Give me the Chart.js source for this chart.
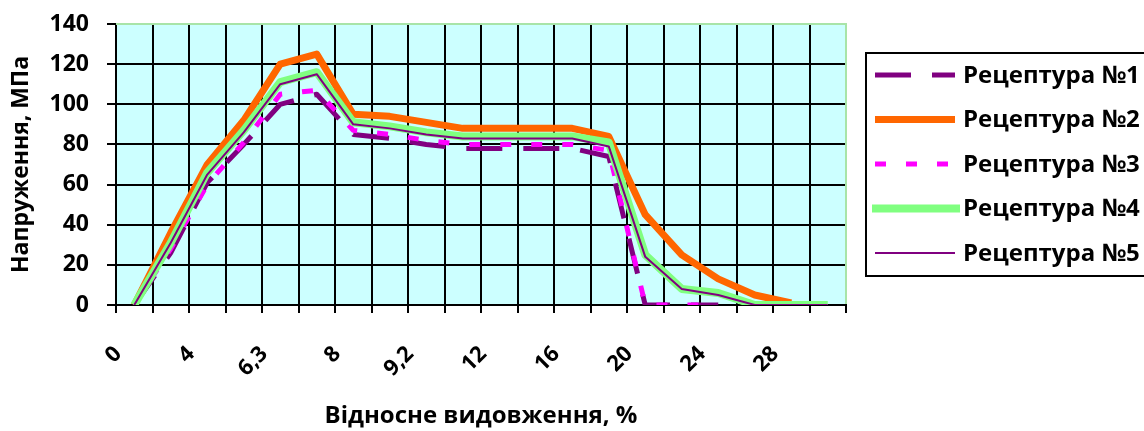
<!DOCTYPE html>
<html>
<head>
<meta charset="utf-8">
<script src="https://cdn.jsdelivr.net/npm/chart.js@4/dist/chart.umd.min.js"></script>
<style>
    html, body { margin: 0; padding: 0; background: #FFFFFF; }
</style>
</head>
<body>
<canvas id="stressChart" width="1144" height="431"></canvas>
<script>
// categories (only every second one is labelled on the original axis)
const categories = ['0', '', '4', '', '6,3', '', '8', '', '9,2', '', '12', '', '16', '', '20', '', '24', '', '28', ''];

const seriesNames = ['Рецептура №1', 'Рецептура №2', 'Рецептура №3', 'Рецептура №4', 'Рецептура №5'];

const recipe1 = [0, 26, 61, 80, 100, 105, 85, 83, 80, 78, 78, 78, 78, 74, 0, 0, 0, null, null, null];
const recipe2 = [0, 36, 70, 92, 120, 125, 95, 94, 91, 88, 88, 88, 88, 84, 45, 25, 13, 5, 1, null];
const recipe3 = [0, 28, 60, 81, 105, 107, 87, 85, 82, 80, 80, 80, 80, 77, 0, 0, 0, null, null, null];
const recipe4 = [0, 31, 66, 87, 111, 116, 91, 89, 86, 84, 84, 84, 84, 81, 25, 8, 6, 0, 0, 0];
const recipe5 = [0, 31, 65, 86, 110, 115, 90, 88, 85, 83, 83, 83, 83, 79, 24, 8, 5, 0, 0, 0];

const yMin = 0;
const yMax = 140;
const yStep = 20;

const FONT = 'Open Sans';

// plot background + pale top/right border (like the excel plot area)
const plotArea = {
    id: 'plotArea',
    beforeDraw(chart) {
        const { ctx, chartArea: a } = chart;
        ctx.save();
        ctx.fillStyle = '#FFFFFF';
        ctx.fillRect(0, 0, chart.width, chart.height);
        ctx.fillStyle = '#CCFFFF';
        ctx.fillRect(a.left, a.top, a.right - a.left, a.bottom - a.top);
        ctx.restore();
    },
    beforeDatasetsDraw(chart) {
        const { ctx, chartArea: a } = chart;
        ctx.save();
        ctx.strokeStyle = '#A8E4A8';
        ctx.lineWidth = 2;
        ctx.beginPath();
        ctx.moveTo(a.left, a.top);
        ctx.lineTo(a.right, a.top);
        ctx.lineTo(a.right, a.bottom - 1);
        ctx.stroke();
        ctx.restore();
    }
};

// boxed legend on the right, partly cut by the page edge
const boxLegend = {
    id: 'boxLegend',
    afterDraw(chart) {
        const ctx = chart.ctx;
        ctx.save();
        ctx.strokeStyle = '#000000';
        ctx.lineWidth = 2;
        ctx.strokeRect(866, 53, 300, 223);
        chart.data.datasets.forEach((ds, i) => {
            const y = 75 + i * 44.5;
            ctx.beginPath();
            ctx.setLineDash(ds.borderDash || []);
            ctx.lineCap = 'butt';
            ctx.lineWidth = ds.borderWidth;
            ctx.strokeStyle = ds.borderColor;
            const x0 = ds.borderWidth >= 8 ? 872 : 875;
            const x1 = ds.borderWidth >= 8 ? 960 : 955;
            ctx.moveTo(x0, y);
            ctx.lineTo(x1, y);
            ctx.stroke();
            ctx.setLineDash([]);
            ctx.fillStyle = '#000000';
            ctx.font = 'bold 24px "' + FONT + '"';
            ctx.textBaseline = 'middle';
            ctx.fillText(ds.label, 963, y + 1);
        });
        ctx.restore();
    }
};

const lineStyle = (label, data, color, width, dash, order) => ({
    label: label,
    data: data,
    borderColor: color,
    backgroundColor: color,
    borderWidth: width,
    borderDash: dash,
    borderCapStyle: 'butt',
    borderJoinStyle: 'round',
    pointRadius: 0,
    fill: false,
    tension: 0,
    spanGaps: false,
    order: order // last series on top, like excel
});

const config = {
    type: 'line',
    data: {
        labels: categories,
        datasets: [
            lineStyle(seriesNames[0], recipe1, '#800080', 5, [36, 21], 4),
            lineStyle(seriesNames[1], recipe2, '#FF6600', 7, [], 3),
            lineStyle(seriesNames[2], recipe3, '#FF00FF', 5, [11, 20], 2),
            lineStyle(seriesNames[3], recipe4, '#80FF80', 8, [], 1),
            lineStyle(seriesNames[4], recipe5, '#800080', 2, [], 0)
        ]
    },
    options: {
        responsive: false,
        animation: false,
        layout: {
            padding: { top: 24, right: 298, left: 0, bottom: 0 }
        },
        plugins: {
            legend: { display: false },
            tooltip: { enabled: false }
        },
        scales: {
            x: {
                type: 'category',
                offset: true,
                grid: {
                    offset: true,
                    color: (c) => c.index === categories.length ? 'rgba(0,0,0,0)' : '#000000',
                    tickColor: '#000000',
                    lineWidth: 2,
                    tickLength: 8
                },
                border: { color: '#000000', width: 2 },
                ticks: {
                    autoSkip: false,
                    maxRotation: 45,
                    minRotation: 45,
                    labelOffset: -16,
                    padding: 28,
                    color: '#000000',
                    font: { family: FONT, weight: 'bold', size: 22 }
                },
                title: {
                    display: true,
                    text: 'Відносне видовження, %',
                    color: '#000000',
                    font: { family: FONT, weight: 'bold', size: 24 },
                    padding: { top: 0, bottom: 0 }
                },
                afterFit: (scale) => {
                    scale.height = 126;
                    scale.paddingLeft = 0;
                    scale.paddingRight = 0;
                }
            },
            y: {
                min: yMin,
                max: yMax,
                grid: {
                    color: (c) => (c.tick && c.tick.value === yMax) ? 'rgba(0,0,0,0)' : '#000000',
                    tickColor: '#000000',
                    lineWidth: 2,
                    tickLength: 9
                },
                border: { color: '#000000', width: 2 },
                ticks: {
                    stepSize: yStep,
                    padding: 18,
                    color: '#000000',
                    font: { family: FONT, weight: 'bold', size: 23 }
                },
                title: {
                    display: true,
                    text: 'Напруження, МПа',
                    color: '#000000',
                    font: { family: FONT, weight: 'bold', size: 23 },
                    padding: { top: 8, bottom: 0 }
                },
                afterFit: (scale) => {
                    scale.width = 116;
                    scale.paddingTop = 0;
                    scale.paddingBottom = 0;
                }
            }
        }
    },
    plugins: [plotArea, boxLegend]
};

const ctx = document.getElementById('stressChart').getContext('2d');
window.stressChart = new Chart(ctx, config);
</script>
</body>
</html>
